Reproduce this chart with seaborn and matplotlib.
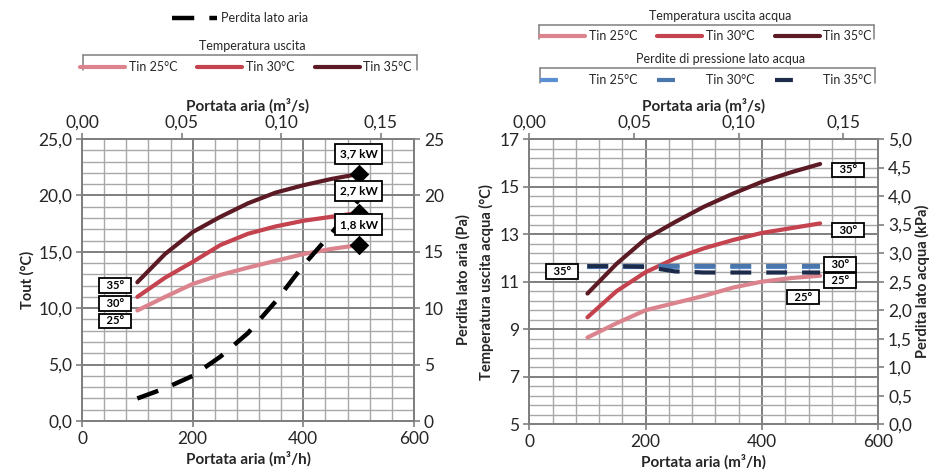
import matplotlib
matplotlib.use("Agg")
import matplotlib.pyplot as plt
from matplotlib.lines import Line2D
from matplotlib.ticker import MultipleLocator, FixedLocator, FuncFormatter
import seaborn as sns

# ---------------- data ----------------
airflow = [100, 150, 200, 250, 300, 350, 400, 450, 500]          # m3/h

# left chart: outlet air temperature (°C) per inlet water temperature
tout_25 = [9.8, 11.0, 12.15, 12.95, 13.6, 14.2, 14.8, 15.25, 15.6]
tout_30 = [11.0, 12.7, 14.1, 15.6, 16.6, 17.25, 17.75, 18.1, 18.45]
tout_35 = [12.3, 14.8, 16.75, 18.1, 19.3, 20.25, 20.9, 21.45, 21.9]
air_dp = [2.0, 2.9, 4.0, 5.7, 7.8, 10.6, 13.8, 16.6, 19.6]       # Pa
power_labels = ["1,8 kW", "2,7 kW", "3,7 kW"]
tin_labels = ["25°", "30°", "35°"]
legend_labels = ["Tin 25°C", "Tin 30°C", "Tin 35°C"]

# right chart: outlet water temperature (°C)
tw_25 = [8.65, 9.25, 9.8, 10.1, 10.4, 10.75, 11.0, 11.15, 11.25]
tw_30 = [9.5, 10.6, 11.4, 11.97, 12.4, 12.75, 13.05, 13.25, 13.45]
tw_35 = [10.5, 11.75, 12.8, 13.5, 14.15, 14.7, 15.2, 15.6, 15.95]
# water side pressure drop (kPa)
wdp_25 = [2.76, 2.76, 2.76, 2.76, 2.76, 2.76, 2.76, 2.76, 2.76]
wdp_30 = [2.77, 2.77, 2.77, 2.77, 2.77, 2.77, 2.77, 2.77, 2.77]
wdp_35 = [2.77, 2.77, 2.76, 2.68, 2.66, 2.66, 2.66, 2.66, 2.66]

# axis tick values
right_temp_ticks = [5, 7, 9, 11, 13, 15, 17]

# ---------------- style ----------------
sns.set_theme(style="white")
plt.rcParams['font.family'] = ['Lato', 'DejaVu Sans']
plt.rcParams['axes.unicode_minus'] = False

reds = ["#dc848d", "#c4434f", "#5c1a24"]
blues = ["#5b8fd4", "#4a76ab", "#1c2b4a"]
GRID_MAJ = "#7f7f7f"
GRID_MIN = "#a8a8a8"
TXT = "#262626"
XLAB_FS = 11
YLAB_FS = 10.5

W, H = 933, 474
fig = plt.figure(figsize=(W / 100, H / 100), dpi=100)


def fx(px):
    return px / W


def fy(py):
    return 1 - py / H


axL = fig.add_axes([fx(82), fy(421), 332 / W, 282 / H])
axR = fig.add_axes([fx(529.3), fy(424.3), 349 / W, 285.3 / H])

comma1 = FuncFormatter(lambda v, p: f"{v:.1f}".replace('.', ','))
comma2 = FuncFormatter(lambda v, p: f"{v:.2f}".replace('.', ','))
intfmt = FuncFormatter(lambda v, p: f"{v:.0f}")


def style_axes(ax):
    ax.set_xlim(0, 600)
    ax.xaxis.set_major_locator(MultipleLocator(200))
    ax.xaxis.set_minor_locator(MultipleLocator(40))
    ax.grid(which='major', color=GRID_MAJ, lw=1.4)
    ax.grid(which='minor', color=GRID_MIN, lw=1.0)
    ax.set_axisbelow(True)
    ax.tick_params(which='minor', length=0)
    ax.tick_params(which='major', direction='out', length=4, width=1.2, color=GRID_MAJ,
                   labelsize=12.5, labelcolor=TXT, pad=3, left=True, bottom=True)
    for s in ax.spines.values():
        s.set_color(GRID_MAJ)
        s.set_linewidth(1.3)
    ax.xaxis.set_major_formatter(intfmt)
    ax.set_xlabel("Portata aria (m³/h)", fontsize=XLAB_FS, fontweight='bold', color=TXT,
                  labelpad=3)
    sec = ax.secondary_xaxis('top', functions=(lambda v: v / 3600.0, lambda v: v * 3600.0))
    sec.set_xticks([0.0, 0.05, 0.10, 0.15])
    sec.xaxis.set_major_formatter(comma2)
    sec.tick_params(direction='out', length=4, width=1.2, color=GRID_MAJ, labelsize=12.5,
                    labelcolor=TXT, pad=2)
    sec.spines['top'].set_color(GRID_MAJ)
    sec.set_xlabel("Portata aria (m³/s)", fontsize=XLAB_FS, fontweight='bold', color=TXT,
                   labelpad=3)
    return sec


def style_twin(ax2, ymin, ymax, ymaj, fmt):
    ax2.set_ylim(ymin, ymax)
    ax2.yaxis.set_major_locator(MultipleLocator(ymaj))
    ax2.yaxis.set_major_formatter(fmt)
    ax2.grid(False)
    ax2.tick_params(which='major', direction='out', length=4, width=1.2, color=GRID_MAJ,
                    labelsize=12.5, labelcolor=TXT, pad=3, right=True)
    for s in ax2.spines.values():
        s.set_color(GRID_MAJ)
        s.set_linewidth(1.3)


box_big = dict(boxstyle='square,pad=0.4', fc='white', ec='black', lw=1.3)
box_small = dict(boxstyle='square,pad=0.15', fc='white', ec='black', lw=1.3)

# ================= LEFT CHART =================
for vals, c in zip([tout_25, tout_30, tout_35], reds):
    sns.lineplot(x=airflow, y=vals, ax=axL, color=c, lw=3.0, legend=False)
style_axes(axL)
axL.set_ylim(0, 25)
axL.yaxis.set_major_locator(MultipleLocator(5))
axL.yaxis.set_minor_locator(MultipleLocator(1))
axL.yaxis.set_major_formatter(comma1)
axL.set_ylabel("Tout (°C)", fontsize=YLAB_FS, fontweight='bold', color=TXT, labelpad=3)

axL2 = axL.twinx()
sns.lineplot(x=airflow, y=air_dp, ax=axL2, color='black', lw=3.2,
             linestyle=(0, (5, 3.4)), legend=False)
style_twin(axL2, 0, 25, 5, intfmt)
axL2.set_ylabel("Perdita lato aria (Pa)", fontsize=YLAB_FS, fontweight='bold', color=TXT,
                labelpad=9)

# end markers on the temperature curves (drawn in temperature coordinates)
end_x = [airflow[-1]] * 3
end_y = [tout_25[-1], tout_30[-1], tout_35[-1]]
sns.scatterplot(x=end_x, y=end_y, ax=axL2, marker='D', s=85, color='black',
                edgecolor='black', transform=axL.transData, zorder=5, legend=False)
axL2.set_ylim(0, 25)
axL2.set_xlim(0, 600)

# power labels above the end markers
for lab, yv in zip(power_labels, [17.42, 20.39, 23.67]):
    axL2.text(500, yv, lab, transform=axL.transData, ha='center', va='center',
              fontsize=8.5, fontweight='bold', color='black', bbox=box_big, zorder=6)
# inlet temperature labels at curve starts
for lab, yv in zip(tin_labels, [8.87, 10.42, 12.01]):
    axL2.text(59.6, yv, f"  {lab}  ", transform=axL.transData, ha='center', va='center',
              fontsize=8, fontweight='bold', color='black', bbox=box_small, zorder=6)

# ================= RIGHT CHART =================
for vals, c in zip([tw_25, tw_30, tw_35], reds):
    sns.lineplot(x=airflow, y=vals, ax=axR, color=c, lw=3.0, legend=False)
style_axes(axR)
axR.set_ylim(5, 17)
axR.yaxis.set_major_locator(FixedLocator(right_temp_ticks))
axR.yaxis.set_minor_locator(FixedLocator([5 + 0.4 * i for i in range(31)]))
axR.yaxis.set_major_formatter(intfmt)
axR.set_ylabel("Temperatura uscita acqua (°C)", fontsize=YLAB_FS, fontweight='bold',
               color=TXT, labelpad=4)

axR2 = axR.twinx()
for vals, c in zip([wdp_25, wdp_30, wdp_35], blues):
    sns.lineplot(x=airflow, y=vals, ax=axR2, color=c, lw=3.0,
                 linestyle=(0, (5, 3.6)), legend=False)
style_twin(axR2, 0, 5, 0.5, comma1)
axR2.set_xlim(0, 600)
axR2.set_ylabel("Perdita lato acqua (kPa)", fontsize=YLAB_FS, fontweight='bold', color=TXT,
                labelpad=2)

# labels on the right chart (temperature coordinates)
r_labels = [("35°", 547.6, 15.71), ("30°", 547.6, 13.17), ("30°", 534.7, 11.72),
            ("25°", 534.7, 11.05), ("25°", 470.3, 10.35), ("35°", 57.0, 11.43)]
for lab, xv, yv in r_labels:
    axR2.text(xv, yv, f"  {lab}  ", transform=axR.transData, ha='center', va='center',
              fontsize=8, fontweight='bold', color='black', bbox=box_small, zorder=6)

# ================= LEGENDS =================
# left: air-side pressure drop
h_air = [Line2D([], [], color='black', lw=3.2, linestyle=(0, (5, 3.4)))]
fig.legend(h_air, ["Perdita lato aria"], loc='center', bbox_to_anchor=(fx(240), fy(18)),
           frameon=False, fontsize=9, handlelength=3.6, handletextpad=0.3,
           borderpad=0, borderaxespad=0)

# left: outlet temperature
fig.text(fx(252), fy(46), "Temperatura uscita", ha='center', va='center', fontsize=9, color=TXT)
fig.legend(axL.get_lines()[:3], legend_labels, loc='center', ncol=3,
           bbox_to_anchor=(fx(246), fy(67)), frameon=False, fontsize=9, handlelength=3.6,
           handletextpad=0.3, columnspacing=1.6, borderpad=0, borderaxespad=0)

# right: outlet water temperature
fig.text(fx(720), fy(16.5), "Temperatura uscita acqua", ha='center', va='center', fontsize=9,
         color=TXT)
fig.legend(axR.get_lines()[:3], legend_labels, loc='center', ncol=3,
           bbox_to_anchor=(fx(706), fy(36)), frameon=False, fontsize=9, handlelength=3.6,
           handletextpad=0.3, columnspacing=1.6, borderpad=0, borderaxespad=0)

# right: water pressure drop
fig.text(fx(721), fy(59.3), "Perdite di pressione lato acqua", ha='center', va='center',
         fontsize=9, color=TXT)
h_w = [Line2D([], [], color=c, lw=3.0, linestyle=(0, (4.3, 7.3))) for c in blues]
fig.legend(h_w, legend_labels, loc='center', ncol=3,
           bbox_to_anchor=(fx(706), fy(80)), frameon=False, fontsize=9, handlelength=3.6,
           handletextpad=0.3, columnspacing=1.6, borderpad=0, borderaxespad=0)

# open legend frames (top edge and short sides)
for x0, x1, ytop, ybot in [(83, 417, 55, 70), (539.3, 874.3, 25, 39), (540, 875, 68.3, 83)]:
    fig.add_artist(Line2D([fx(x0), fx(x1)], [fy(ytop), fy(ytop)], color=GRID_MAJ, lw=1.1,
                          transform=fig.transFigure))
    for xv in (x0, x1):
        fig.add_artist(Line2D([fx(xv), fx(xv)], [fy(ytop), fy(ybot)], color=GRID_MAJ, lw=1.1,
                              transform=fig.transFigure))

fig.savefig("out.png", dpi=100)
